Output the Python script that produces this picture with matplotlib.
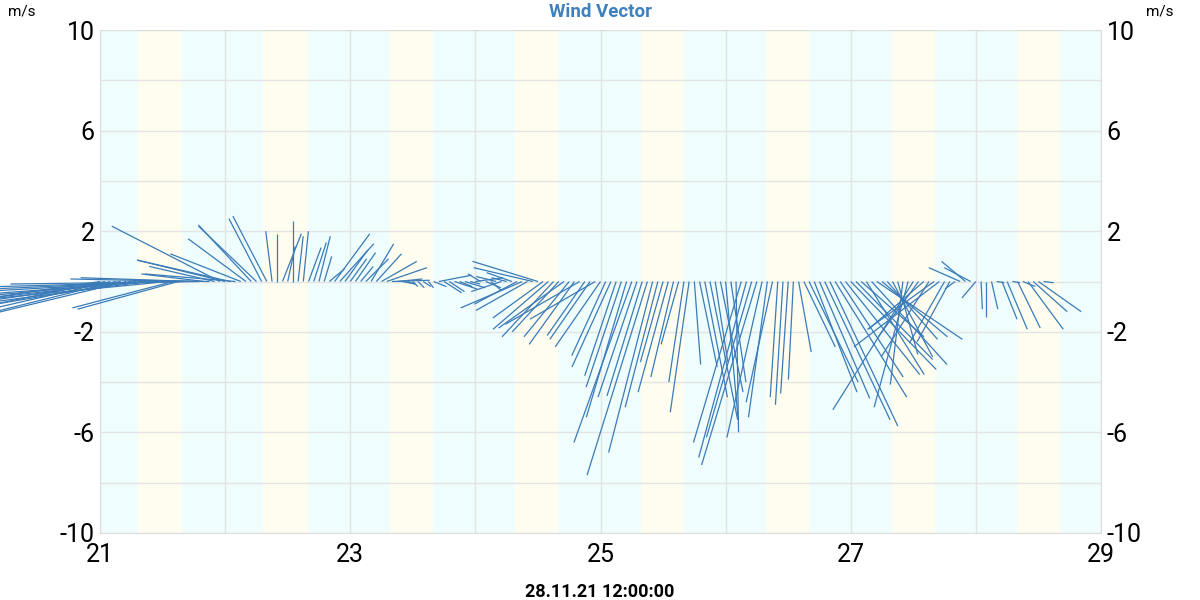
import numpy as np
import matplotlib
matplotlib.use("Agg")
import matplotlib.pyplot as plt
from matplotlib.collections import LineCollection
from matplotlib.ticker import FixedLocator, MultipleLocator

plt.rcParams['font.family'] = ['Roboto', 'DejaVu Sans']
plt.rcParams['axes.unicode_minus'] = False

# hourly wind components (m/s), first record at 21.11. 00:00
u21 = [-4.0, -4.4, -4.8, -5.2, -5.5, -5.8, -6.0, -6.3, -6.5, -6.8, -6.6, -7.0,
       -6.9, -7.2, -4.0, -4.0, -7.3, -4.7, -4.5, -7.5, -2.5, -3.0, -2.6, -4.3]
v21 = [-0.6, -0.9, -1.1, -1.3, -0.8, -1.4, -1.0, -0.7, -0.6, -0.9, -0.5, -0.4,
       -0.3, -0.7, -1.05, -1.1, -0.2, 0.1, 0.15, -0.1, 0.3, 0.05, 0.6, 2.2]
u22 = [-3.5, -3.7, -3.6, -2.8, -2.3, -2.1, -2.3, -1.3, -1.35, -0.25, 0.0, 0.75,
       0.3, 0.0, 0.2, 0.2, 0.5, 0.5, 0.45, 0.3, 0.6, 1.4, 1.35, 0.9]
v22 = [0.85, 0.85, 0.3, 1.1, 1.7, 2.25, 2.2, 2.5, 2.6, 2.0, 1.9, 1.9,
       1.4, 2.4, 1.8, 2.0, 1.35, 1.55, 1.8, 1.0, 0.5, 1.9, 1.5, 1.25]
u23 = [0.65, 0.8, 0.5, 0.9, 0.9, 1.0, 1.4, 1.6, 1.5, 1.0, 0.5, 0.3,
       0.2, 0.25, 0.3, 0.2, 0.5, 1.3, 0.7, 0.6, 0.9, 0.5, 0.8, 0.4]
v23 = [0.9, 1.15, 0.6, 0.9, 1.5, 1.1, 0.8, 0.55, 0.05, 0.1, -0.1, -0.1,
       -0.2, -0.25, -0.2, -0.25, -0.2, 0.25, -0.45, -0.4, -0.3, -0.2, -0.25, -0.1]
u24 = [1.1, -0.5, 0.6, 0.4, -0.8, -1.2, -0.6, -1.0, -1.7, -2.45, -2.05, -2.35,
       -2.6, -2.0, -2.2, -2.05, -1.85, -2.6, -1.8, -1.8, -2.95, -1.5, -1.6, -2.6]
v24 = [0.15, 0.3, -0.25, -0.35, 0.2, -0.4, 0.15, 0.35, -0.9, -1.05, -1.15, 0.55,
       0.8, -1.45, -1.9, -2.2, -2.0, -1.85, -2.2, -2.5, -1.7, -2.15, -2.3, -1.5]
u25 = [-1.8, -1.35, -1.55, -1.25, -1.4, -1.6, -2.3, -1.55, -1.4, -2.4, -1.75, -1.3,
       -0.9, -1.2, -0.9, -0.7, -0.6, -0.75, 0.25, 0.7, 0.9, 1.1, 0.5, 0.9]
v25 = [-2.6, -2.95, -3.4, -3.75, -4.2, -5.4, -6.4, -4.6, -4.55, -7.7, -6.8, -5.0,
       -3.2, -4.4, -3.8, -2.5, -4.0, -5.2, -3.3, -3.4, -4.6, -5.5, -3.2, -4.4]
u26 = [0.5, 0.6, 0.1, -1.9, -1.9, -1.8, -2.2, -1.4, -0.75, -1.05, -0.3, -0.3,
       -0.3, -0.2, 0.5, 1.25, 1.95, 1.7, 2.0, 2.6, 2.7, 2.85, 2.5, 2.95]
v26 = [-5.5, -4.0, -6.0, -6.4, -7.0, -6.2, -7.3, -6.2, -5.4, -4.8, -4.6, -4.9,
       -4.45, -3.9, -2.8, -2.6, -4.0, -4.4, -4.65, -5.5, -5.75, -4.6, -3.8, -3.7]
u27 = [3.4, 3.05, 2.5, 2.3, 3.0, 3.4, 2.6, 2.0, 1.6, 0.8, -0.5, -1.35,
       -3.2, -1.6, -2.2, -1.9, -2.65, -3.4, -1.4, -1.3, -0.4, -1.25, -0.95, -1.05]
v27 = [-3.5, -3.1, -2.2, -3.7, -3.3, -2.3, -2.2, -2.3, -3.0, -2.9, -4.1, -5.0,
       -5.1, -2.2, -1.9, -3.0, -1.9, -2.6, -2.45, -2.4, -0.3, 0.55, 0.8, 0.55]
u28 = [-0.55, 0.05, 0.0, 0.25, 0.3, 0.6, 0.8, 0.3, 0.9, 0.5, 1.4, 1.35, 1.7, 0.4]
v28 = [-0.65, -1.1, -1.4, -1.1, -0.05, -1.5, -1.9, -0.05, -1.85, -0.2, -1.9, -1.2, -1.2, -0.05]

u_ms = u21 + u22 + u23 + u24 + u25 + u26 + u27 + u28
v_ms = v21 + v22 + v23 + v24 + v25 + v26 + v27 + v28

# daylight bands (fraction of day)
days = [21, 22, 23, 24, 25, 26, 27, 28]
light_from = [0.304, 0.304, 0.32, 0.32, 0.32, 0.32, 0.328, 0.328]
light_to = [0.656, 0.664, 0.664, 0.664, 0.664, 0.664, 0.672, 0.672]

night_col = '#effdfd'
day_col = '#fefdef'
line_col = '#3a7bb8'
grid_col = '#e4e4e4'

fig = plt.figure(figsize=(12, 6), dpi=100)
ax = fig.add_axes([100/1200, 67/600, 1001/1200, 503/600])
ax.set_xlim(21, 29)
ax.set_ylim(-10, 10)
ax.set_facecolor(night_col)

for d, a, b in zip(days, light_from, light_to):
  ax.axvspan(d + a, d + b, color=day_col, lw=0, zorder=0)

# same pixel length per m/s on both axes
pos = ax.get_position()
w_in = pos.width*fig.get_figwidth()
h_in = pos.height*fig.get_figheight()
k = (8/w_in)*(h_in/20)

t = 21 + np.arange(len(u_ms))/24.
segs = [[(ti, 0), (ti + ui*k, vi)] for ti, ui, vi in zip(t, u_ms, v_ms)]
lc = LineCollection(segs, colors=line_col, linewidths=0.9, zorder=3, clip_on=False)
ax.add_collection(lc)

ax.xaxis.set_major_locator(FixedLocator([21, 23, 25, 27, 29]))
ax.xaxis.set_minor_locator(MultipleLocator(1))
ax.yaxis.set_major_locator(FixedLocator([-10, -6, -2, 2, 6, 10]))
ax.yaxis.set_minor_locator(MultipleLocator(2))
ax.set_axisbelow(True)
ax.grid(which='both', color=grid_col, lw=1, zorder=1)
ax.tick_params(which='both', length=0, labelsize=18)
ax.tick_params(axis='y', labelright=True, pad=4)
ax.tick_params(axis='x', pad=7)
for s in ax.spines.values():
  s.set_color('#dddddd')

fig.text(0.5, 1 - 12/600, 'Wind Vector', ha='center', va='center',
         color='#3f80bd', fontweight='bold', fontsize=13.5)
fig.text(22/1200, 1 - 12/600, 'm/s', ha='center', va='center', fontsize=11)
fig.text(1160/1200, 1 - 12/600, 'm/s', ha='center', va='center', fontsize=11)
fig.text(0.5, 1 - 592/600, '28.11.21 12:00:00', ha='center', va='center',
         fontweight='bold', fontsize=13)

plt.savefig("out.png", dpi=100)
